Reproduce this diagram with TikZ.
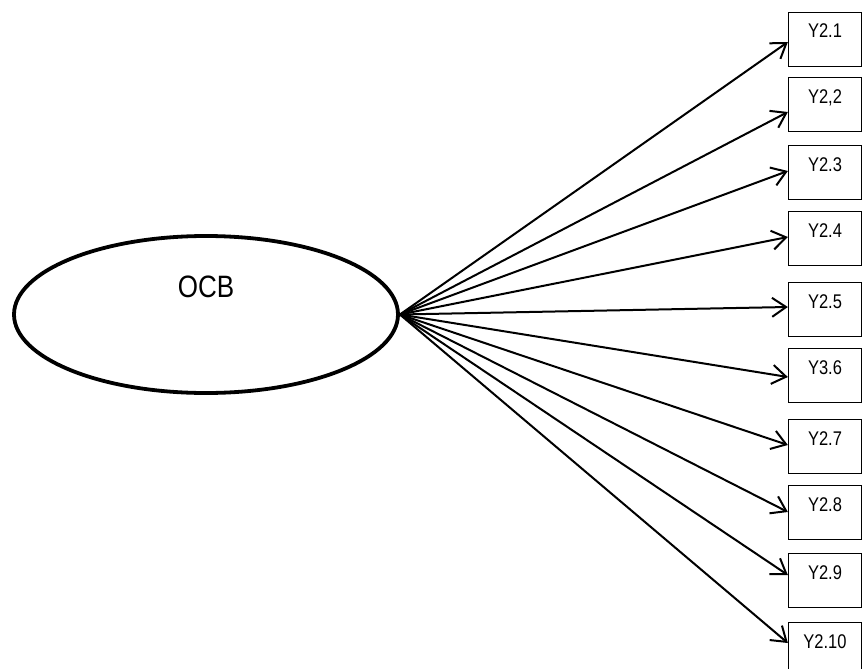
\documentclass[tikz,border=0pt]{standalone}
\usepackage{fontspec}
\setmainfont{Liberation Sans}
\usetikzlibrary{shapes.geometric,arrows.meta}
\begin{document}
\begin{tikzpicture}[x=1pt,y=-1pt,
  latent/.style={ellipse,draw,line width=3.8pt,minimum width=384pt,minimum height=157pt,inner sep=0pt,text height=22pt,text depth=57pt,font=\fontsize{26}{26}\selectfont},
  obsbox/.style={rectangle,draw,line width=1.3pt,minimum width=73pt,minimum height=54pt,inner sep=0pt,text height=14pt,text depth=17pt,font=\fontsize{16.5}{16.5}\selectfont},
  load/.style={line width=2pt,-{Straight Barb[length=14pt,width=19pt,line width=2pt]}}]
\useasboundingbox (0,0) rectangle (865,669);
\node[latent] (ocb) at (206,314.5) {\scalebox{1}[1.19]{OCB}};
\foreach \i/\top/\tip/\lab in {1/12/42/Y2.1, 2/77/112/{Y2,2}, 3/145/171/Y2.3, 4/211/237/Y2.4, 5/282/307/Y2.5, 6/348/377/Y3.6, 7/419/445/Y2.7, 8/485/512/Y2.8, 9/553/575/Y2.9, 10/622/643/Y2.10}{
  \node[obsbox] (b\i) at (825,\top+27.5) {\scalebox{1}[1.2]{\lab}};
  \pgfmathsetmacro{\dy}{\top+27.5-\tip}
  \draw[load] (ocb.east) -- ([yshift=\dy pt]b\i.west);
}
\end{tikzpicture}
\end{document}
